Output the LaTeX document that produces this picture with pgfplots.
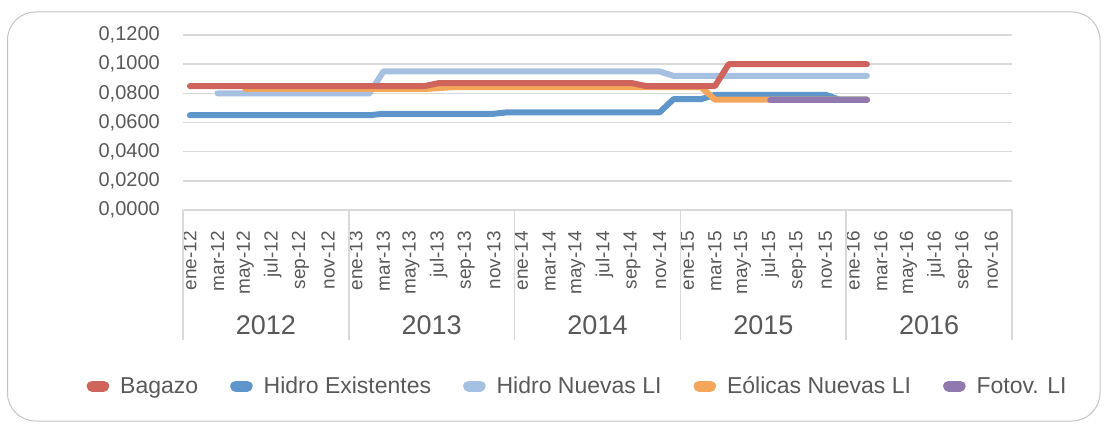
\documentclass[border=0pt]{standalone}
\usepackage{pgfplots}
\pgfplotsset{compat=1.18}
\usepackage{fontspec}
\setmainfont{Liberation Sans}
\definecolor{cRed}{HTML}{CF645C}
\definecolor{cBlue}{HTML}{5E96CB}
\definecolor{cLBlue}{HTML}{A5C0E0}
\definecolor{cOrange}{HTML}{F4A65A}
\definecolor{cPurple}{HTML}{9179B0}
\definecolor{cGrid}{HTML}{D9D9D9}
\definecolor{cBorder}{HTML}{C4C4C4}
\definecolor{cText}{HTML}{595959}
\begin{document}
\begin{tikzpicture}[x=1bp,y=1bp]
\path[use as bounding box] (0,0) rectangle (1104,425);
\draw[cBorder, line width=1bp, rounded corners=28bp] (7.5,4) rectangle (1100,413);
\begin{axis}[
  at={(183bp,215bp)}, anchor=south west,
  scale only axis, width=829bp, height=175bp,
  xmin=-0.5, xmax=59.5, ymin=0, ymax=0.12,
  axis line style={draw=none},
  clip=false,
  ytick={0,0.02,0.04,0.06,0.08,0.10,0.12},
  scaled y ticks=false,
  ymajorgrids, grid style={cGrid, line width=1.5bp},
  major tick length=0pt,
  xtick={0,2,4,6,8,10,12,14,16,18,20,22,24,26,28,30,32,34,36,38,40,42,44,46,48,50,52,54,56,58},
  xticklabels={ene-12,mar-12,may-12,jul-12,sep-12,nov-12,ene-13,mar-13,may-13,jul-13,sep-13,nov-13,ene-14,mar-14,may-14,jul-14,sep-14,nov-14,ene-15,mar-15,may-15,jul-15,sep-15,nov-15,ene-16,mar-16,may-16,jul-16,sep-16,nov-16},
  xticklabel style={rotate=90, anchor=east, inner sep=0pt, font=\fontsize{19bp}{21bp}\selectfont, text=cText},
  xticklabel shift=21bp,
  yticklabel style={anchor=east, inner sep=0pt, font=\fontsize{20bp}{22bp}\selectfont, text=cText,
    /pgf/number format/fixed, /pgf/number format/fixed zerofill, /pgf/number format/precision=4,
    /pgf/number format/use comma, /pgf/number format/assume math mode=true},
  yticklabel shift=23bp,
  legend columns=5,
  legend style={at={(0.476,-1.006)}, anchor=center, draw=none, fill=none,
    font=\fontsize{23bp}{25bp}\selectfont, text=cText,
    /tikz/every odd column/.append style={column sep=9bp},
    /tikz/every even column/.append style={column sep=30bp}},
  legend image code/.code={\draw[#1, line width=11bp, line cap=round] (5.5bp,0bp) -- (17bp,0bp);},
  every axis plot/.append style={line width=6bp, line cap=round, line join=round, mark=none},
]
\addlegendimage{cRed}\addlegendentry{Bagazo}
\addlegendimage{cBlue}\addlegendentry{Hidro Existentes}
\addlegendimage{cLBlue}\addlegendentry{Hidro Nuevas LI}
\addlegendimage{cOrange}\addlegendentry{Eólicas Nuevas LI}
\addlegendimage{cPurple}\addlegendentry{Fotov. LI}
% Hidro Existentes
\addplot[cBlue, forget plot] coordinates {(0,0.065)(1,0.065)(2,0.065)(3,0.065)(4,0.065)(5,0.065)(6,0.065)(7,0.065)(8,0.065)(9,0.065)(10,0.065)(11,0.065)(12,0.065)(13,0.065)(14,0.066)(15,0.066)(16,0.066)(17,0.066)(18,0.066)(19,0.066)(20,0.066)(21,0.066)(22,0.066)(23,0.067)(24,0.067)(25,0.067)(26,0.067)(27,0.067)(28,0.067)(29,0.067)(30,0.067)(31,0.067)(32,0.067)(33,0.067)(34,0.067)(35,0.076)(36,0.076)(37,0.076)(38,0.079)(39,0.079)(40,0.079)(41,0.079)(42,0.079)(43,0.079)(44,0.079)(45,0.079)(46,0.079)(47,0.0758)(48,0.0758)(49,0.0758)};
% Hidro Nuevas LI
\addplot[cLBlue, forget plot] coordinates {(2,0.080)(3,0.080)(4,0.080)(5,0.080)(6,0.080)(7,0.080)(8,0.080)(9,0.080)(10,0.080)(11,0.080)(12,0.080)(13,0.080)(14,0.095)(15,0.095)(16,0.095)(17,0.095)(18,0.095)(19,0.095)(20,0.095)(21,0.095)(22,0.095)(23,0.095)(24,0.095)(25,0.095)(26,0.095)(27,0.095)(28,0.095)(29,0.095)(30,0.095)(31,0.095)(32,0.095)(33,0.095)(34,0.095)(35,0.092)(36,0.092)(37,0.092)(38,0.092)(39,0.092)(40,0.092)(41,0.092)(42,0.092)(43,0.092)(44,0.092)(45,0.092)(46,0.092)(47,0.092)(48,0.092)(49,0.092)};
% Eolicas Nuevas LI
\addplot[cOrange, forget plot] coordinates {(4,0.083)(5,0.083)(6,0.083)(7,0.083)(8,0.083)(9,0.083)(10,0.083)(11,0.083)(12,0.083)(13,0.083)(14,0.083)(15,0.083)(16,0.083)(17,0.083)(18,0.0836)(19,0.0842)(20,0.0842)(21,0.0842)(22,0.0842)(23,0.0842)(24,0.0842)(25,0.0842)(26,0.0842)(27,0.0842)(28,0.0842)(29,0.0842)(30,0.0842)(31,0.0842)(32,0.0842)(33,0.0842)(34,0.0842)(35,0.0842)(36,0.0842)(37,0.0842)(38,0.0757)(39,0.0757)(40,0.0757)(41,0.0757)(42,0.0757)(43,0.0757)(44,0.0757)(45,0.0757)(46,0.0757)(47,0.0757)(48,0.0757)(49,0.0757)};
% Bagazo
\addplot[cRed, forget plot] coordinates {(0,0.085)(1,0.085)(2,0.085)(3,0.085)(4,0.085)(5,0.085)(6,0.085)(7,0.085)(8,0.085)(9,0.085)(10,0.085)(11,0.085)(12,0.085)(13,0.085)(14,0.085)(15,0.085)(16,0.085)(17,0.085)(18,0.087)(19,0.087)(20,0.087)(21,0.087)(22,0.087)(23,0.087)(24,0.087)(25,0.087)(26,0.087)(27,0.087)(28,0.087)(29,0.087)(30,0.087)(31,0.087)(32,0.087)(33,0.085)(34,0.085)(35,0.085)(36,0.085)(37,0.085)(38,0.085)(39,0.100)(40,0.100)(41,0.100)(42,0.100)(43,0.100)(44,0.100)(45,0.100)(46,0.100)(47,0.100)(48,0.100)(49,0.100)};
% Fotov. LI
\addplot[cPurple, forget plot] coordinates {(42,0.0752)(43,0.0752)(44,0.0752)(45,0.0752)(46,0.0752)(47,0.0752)(48,0.0752)(49,0.0752)};
% year group separators and labels
\pgfplotsinvokeforeach{-0.5,11.5,23.5,35.5,47.5,59.5}{
  \draw[cGrid, line width=1.5bp] (axis cs:#1,0) -- ++(0bp,-130bp);
}
\node[text=cText, font=\fontsize{27bp}{29bp}\selectfont] at (axis cs:5.5,0) [yshift=-115bp] {2012};
\node[text=cText, font=\fontsize{27bp}{29bp}\selectfont] at (axis cs:17.5,0) [yshift=-115bp] {2013};
\node[text=cText, font=\fontsize{27bp}{29bp}\selectfont] at (axis cs:29.5,0) [yshift=-115bp] {2014};
\node[text=cText, font=\fontsize{27bp}{29bp}\selectfont] at (axis cs:41.5,0) [yshift=-115bp] {2015};
\node[text=cText, font=\fontsize{27bp}{29bp}\selectfont] at (axis cs:53.5,0) [yshift=-115bp] {2016};
\end{axis}
\end{tikzpicture}
\end{document}
